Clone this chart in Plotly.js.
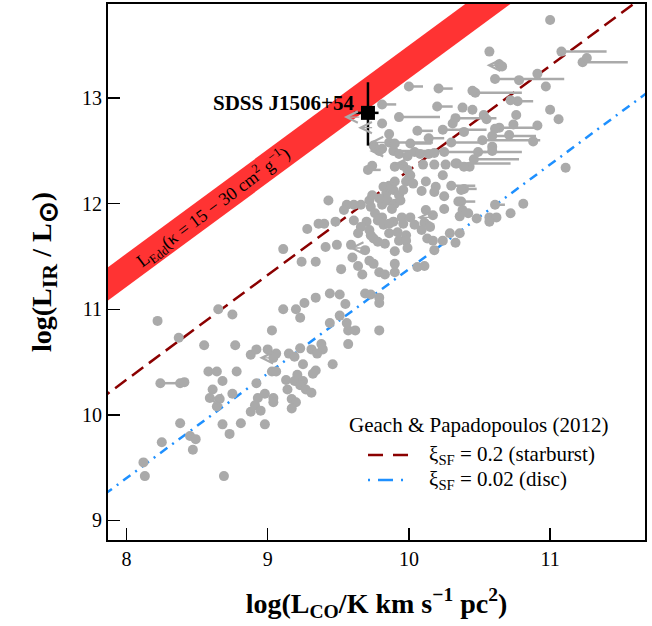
<!DOCTYPE html>
<html>
<head>
<meta charset="utf-8">
<script src="https://cdn.plot.ly/plotly-3.0.1.min.js"></script>
<style>html,body{margin:0;padding:0;background:#fff;}#chart{width:652px;height:626px;}</style>
</head>
<body>
<div id="chart"></div>
<script>
// ---- gray sample points (log L'CO, log LIR) ----
const dotX = [11.00,10.57,11.26,10.64,10.66,10.91,10.78,10.97,10.45,10.72,11.00,10.76,11.06,10.74,10.91,10.38,10.45,10.53,10.55,10.31,9.81,10.61,10.88,10.59,9.86,10.43,10.39,10.10,10.18,10.26,10.33,9.93,9.99,10.04,10.08,10.14,10.18,9.90,9.81,9.75,9.79,9.96,9.99,10.01,9.90,9.74,11.11,10.71,10.59,10.39,
  10.24,10.09,10.00,9.98,10.03,10.12,10.19,10.18,10.37,10.25,10.35,10.81,9.43,9.86,9.89,9.84,9.93,9.85,9.90,9.94,9.81,9.88,9.96,9.90,9.82,9.72,9.79,9.74,9.66,9.61,9.56,9.54,9.73,9.76,9.81,9.78,9.89,9.95,10.01,9.96,10.04,10.11,10.09,10.15,9.61,9.70,9.66,10.12,10.17,10.25,10.38,10.36,10.42,10.48,10.57,10.62,10.57,10.72,9.28,9.36,9.40,9.48,9.82,9.86,
  9.64,9.72,9.86,9.92,9.73,9.98,9.93,9.98,10.13,10.17,10.29,10.36,10.24,10.33,9.83,9.90,9.99,10.18,9.75,9.78,9.11,9.41,9.49,9.59,9.69,9.60,9.24,9.34,9.52,9.64,9.67,9.72,9.75,9.79,9.83,9.90,9.90,10.06,10.11,
  9.44,9.51,9.34,9.26,9.20,9.11,9.23,9.55,9.69,9.73,9.79,9.79,9.51,9.44,9.56,9.03,9.57,9.62,9.79,8.75,8.65,8.22,
  8.37,8.55,8.77,8.88,8.92,9.00,9.06,9.04,8.58,8.64,8.78,9.03,9.06,8.38,8.41,8.68,8.92,8.61,8.75,9.13,9.14,8.59,8.66,8.93,8.98,9.04,9.57,9.38,9.39,9.31,9.35,9.23,9.15,9.19,9.25,9.46,9.34,9.32,9.21,9.19,9.25,9.23,9.27,9.31,9.17,9.20,9.17,
  8.64,9.04,8.91,8.88,8.95,8.38,8.68,8.81,8.98,8.73,8.45,8.49,8.47,8.25,8.12,8.13,8.69];
const dotY = [13.74,13.44,13.38,13.32,13.30,13.23,13.17,13.11,13.07,12.98,12.89,12.84,12.80,12.75,12.74,12.91,12.89,12.84,12.80,12.76,12.76,12.71,12.59,12.54,12.66,12.35,12.35,12.37,12.37,12.37,12.38,12.47,12.45,12.49,12.47,12.47,12.48,12.57,12.52,12.55,12.50,12.36,12.32,12.27,12.35,12.36,12.34,12.65,12.50,12.68,
  12.27,12.12,12.24,12.21,12.19,12.21,12.16,12.11,12.13,12.07,12.02,12.00,12.03,12.17,12.13,12.10,12.08,12.03,12.00,12.03,11.99,11.95,12.13,12.21,12.16,12.03,12.05,12.08,11.99,11.99,11.99,11.94,11.97,11.91,11.87,11.84,11.83,11.87,11.87,11.81,11.80,11.82,11.75,11.78,11.84,11.83,11.78,11.94,11.89,11.95,11.94,11.88,11.91,11.86,11.87,11.87,11.83,11.91,11.76,11.81,11.81,11.83,11.80,11.81,
  11.72,11.75,11.72,11.73,11.70,11.70,11.65,11.65,11.67,11.65,11.72,11.72,11.65,11.63,11.62,11.55,11.58,11.56,11.67,11.64,11.57,11.59,11.61,11.61,11.56,11.49,11.45,11.45,11.38,11.41,11.33,11.46,11.43,11.35,11.33,11.35,11.43,11.40,11.41,
  11.15,11.14,11.11,11.06,11.00,11.00,10.92,11.05,11.15,11.14,11.11,11.06,10.94,10.87,10.87,10.80,10.80,10.80,10.80,10.95,11.00,10.89,
  10.73,10.66,10.66,10.57,10.62,10.62,10.58,10.54,10.41,10.41,10.41,10.41,10.41,10.30,10.31,10.32,10.30,10.24,10.20,10.33,10.24,10.16,10.15,10.16,10.20,10.16,10.67,10.67,10.62,10.62,10.58,10.63,10.58,10.55,10.48,10.48,10.42,10.39,10.38,10.32,10.32,10.28,10.24,10.21,10.15,10.12,10.06,
  10.08,10.12,10.09,10.03,10.04,9.92,9.91,9.92,9.91,9.82,9.80,9.77,9.67,9.74,9.55,9.42,9.42];

// ---- points with horizontal bars (start at the point, extend to larger L'CO) ----
const segX   = [11.08,11.23,10.61,10.00,10.21,10.47,10.77,10.64,9.81,10.20,10.33,9.93,10.06,10.24,10.59,10.14,10.30,10.52,10.49,10.25,10.46,10.34,9.71,9.86,9.89,10.01,10.30,10.39,10.37,10.61,8.24];
const segEnd = [11.40,11.55,11.10,10.10,10.31,10.80,10.88,10.92,9.91,10.31,10.62,10.22,10.17,10.55,10.90,10.25,10.55,10.93,10.80,10.55,10.78,10.72,9.80,10.17,10.25,10.16,10.47,10.48,10.47,10.68,8.41];
const segY   = [13.44,13.34,13.18,13.11,13.09,13.05,12.97,12.72,12.94,12.92,12.81,12.82,12.69,12.70,12.64,12.62,12.58,12.60,12.49,12.49,12.42,12.38,12.32,12.58,12.50,12.57,12.17,12.14,12.02,11.99,10.30];

// ---- upper limits (arrows toward lower L'CO) ----
const limFrom = [10.64,9.66,9.75,9.84,9.84,10.00,9.90,10.17,9.69,9.04,8.66];
const limTo   = [10.55,9.54,9.64,9.72,9.72,9.90,9.79,10.06,9.58,8.94,8.58];
const limY    = [13.31,12.82,12.72,12.58,12.50,12.38,12.155,11.87,11.58,10.54,10.14];

// ---- SDSS J1506+54 ----
const sdssX = [9.71], sdssY = [12.86];
const sdssXerrPlus = [0.075], sdssXerrMinus = [0.10];
const sdssYerrPlus = [0.29], sdssYerrMinus = [0.31];

// ---- model relations ----
const lineX = [7.8, 11.8];
const eddSlope = 0.985, eddLowIcpt = 3.333, eddHighIcpt = 3.648;   // kappa = 30 / 15 cm^2 g^-1
const sbSlope = 0.991, sbIcpt = 2.405;     // xi_SF = 0.2
const discSlope = 0.99, discIcpt = 1.481;  // xi_SF = 0.02

const legendTitle = 'Geach & Papadopoulos (2012)';
const legendNames = ['ξ<sub>SF</sub> = 0.2 (starburst)', 'ξ<sub>SF</sub> = 0.02 (disc)'];

const serif = 'Liberation Serif, Times New Roman, serif';
const gray = 'rgb(170,170,170)';
const sbColor = '#8B0000', discColor = '#1E90FF';

const segLX = [], segLY = [];
for (let i = 0; i < segX.length; i++) { segLX.push(segX[i], segEnd[i], null); segLY.push(segY[i], segY[i], null); }

const traces = [
  {x: lineX, y: lineX.map(v => eddLowIcpt + eddSlope*v), mode:'lines', line:{width:0, color:'rgba(0,0,0,0)'}, hoverinfo:'skip'},
  {x: lineX, y: lineX.map(v => eddHighIcpt + eddSlope*v), mode:'lines', fill:'tonexty', fillcolor:'rgb(255,51,51)', line:{width:0, color:'rgba(0,0,0,0)'}, hoverinfo:'skip'},
  {x: lineX, y: lineX.map(v => sbIcpt + sbSlope*v), mode:'lines', line:{color:sbColor, width:2.5, dash:'14px,7px'}},
  {x: lineX, y: lineX.map(v => discIcpt + discSlope*v), mode:'lines', line:{color:discColor, width:2.5, dash:'2px,6px,9px,6px'}},
  {x: segLX, y: segLY, mode:'lines', line:{color:gray, width:2.5}, hoverinfo:'skip'},
  {x: segX, y: segY, mode:'markers', marker:{color:gray, size:10}},
  {x: dotX, y: dotY, mode:'markers', marker:{color:gray, size:10}},
  {x: sdssX, y: sdssY, mode:'markers', marker:{symbol:'square', color:'black', size:14},
   error_x:{type:'data', symmetric:false, array:sdssXerrPlus, arrayminus:sdssXerrMinus, color:'black', thickness:2.5, width:0},
   error_y:{type:'data', symmetric:false, array:sdssYerrPlus, arrayminus:sdssYerrMinus, color:'black', thickness:2.5, width:0}}
];

const annotations = [];
for (let i = 0; i < limFrom.length; i++) {
  annotations.push({x: limTo[i], y: limY[i], ax: limFrom[i], ay: limY[i], xref:'x', yref:'y', axref:'x', ayref:'y',
    text:'', showarrow:true, arrowhead:5, arrowsize:1.6, arrowwidth:1.4, arrowcolor:gray, standoff:0, startstandoff:0});
}
annotations.push({x: 9.625, y: 12.955, xref:'x', yref:'y', xanchor:'right', yanchor:'middle', showarrow:false,
  text:'<b>SDSS J1506+54</b>', font:{family:serif, size:21, color:'black'}});
annotations.push({x: 8.61, y: 11.965, xref:'x', yref:'y', xanchor:'center', yanchor:'middle', showarrow:false, textangle:-36.8,
  text:'L<sub>Edd</sub>(κ = 15 − 30 cm<sup>2</sup> g<sup>−1</sup>)', font:{family:serif, size:18, color:'black'}});
// legend (manual, to match placement)
annotations.push({x: 0.4445, y: 0.2146, xref:'paper', yref:'paper', xanchor:'left', yanchor:'middle', showarrow:false,
  text: legendTitle, font:{family:serif, size:21, color:'black'}});
annotations.push({x: 0.594, y: 0.1586, xref:'paper', yref:'paper', xanchor:'left', yanchor:'middle', showarrow:false,
  text: legendNames[0], font:{family:serif, size:21, color:'black'}});
annotations.push({x: 0.594, y: 0.1119, xref:'paper', yref:'paper', xanchor:'left', yanchor:'middle', showarrow:false,
  text: legendNames[1], font:{family:serif, size:21, color:'black'}});

const shapes = [
  {type:'line', xref:'paper', yref:'paper', x0:0.4842, x1:0.5624, y0:0.1586, y1:0.1586, line:{color:sbColor, width:2.5, dash:'15px,10px'}},
  {type:'line', xref:'paper', yref:'paper', x0:0.4842, x1:0.5624, y0:0.1119, y1:0.1119, line:{color:discColor, width:2.5, dash:'2px,8px,15px,8px'}}
];

const layout = {
  width:652, height:626,
  margin:{l:108, r:7, t:4, b:86},
  paper_bgcolor:'white', plot_bgcolor:'white',
  showlegend:false,
  xaxis:{range:[7.869, 11.672], tickvals:[8,9,10,11], ticktext:['8','9','10','11'], ticks:'inside', ticklen:12, tickwidth:1.5, tickcolor:'black',
    showline:true, mirror:true, linecolor:'black', linewidth:2, showgrid:false, zeroline:false,
    tickfont:{family:serif, size:20, color:'black'},
    title:{text:'<b>log(L<sub>CO</sub>/K km s<sup>−1</sup> pc<sup>2</sup>)</b>', font:{family:serif, size:28, color:'black'}, standoff:24}},
  yaxis:{range:[8.815, 13.891], tickvals:[9,10,11,12,13], ticktext:['9','10','11','12','13'], ticks:'inside', ticklen:12, tickwidth:1.5, tickcolor:'black',
    showline:true, mirror:true, linecolor:'black', linewidth:2, showgrid:false, zeroline:false,
    tickfont:{family:serif, size:20, color:'black'},
    title:{text:'<b>log(L<sub><span style="font-size:22px">IR</span></sub> / L<sub><span style="font-size:26px">⊙</span></sub>)</b>', font:{family:serif, size:28, color:'black'}, standoff:22}},
  annotations: annotations,
  shapes: shapes
};

Plotly.newPlot('chart', traces, layout, {displayModeBar:false, staticPlot:true});
</script>
</body>
</html>
